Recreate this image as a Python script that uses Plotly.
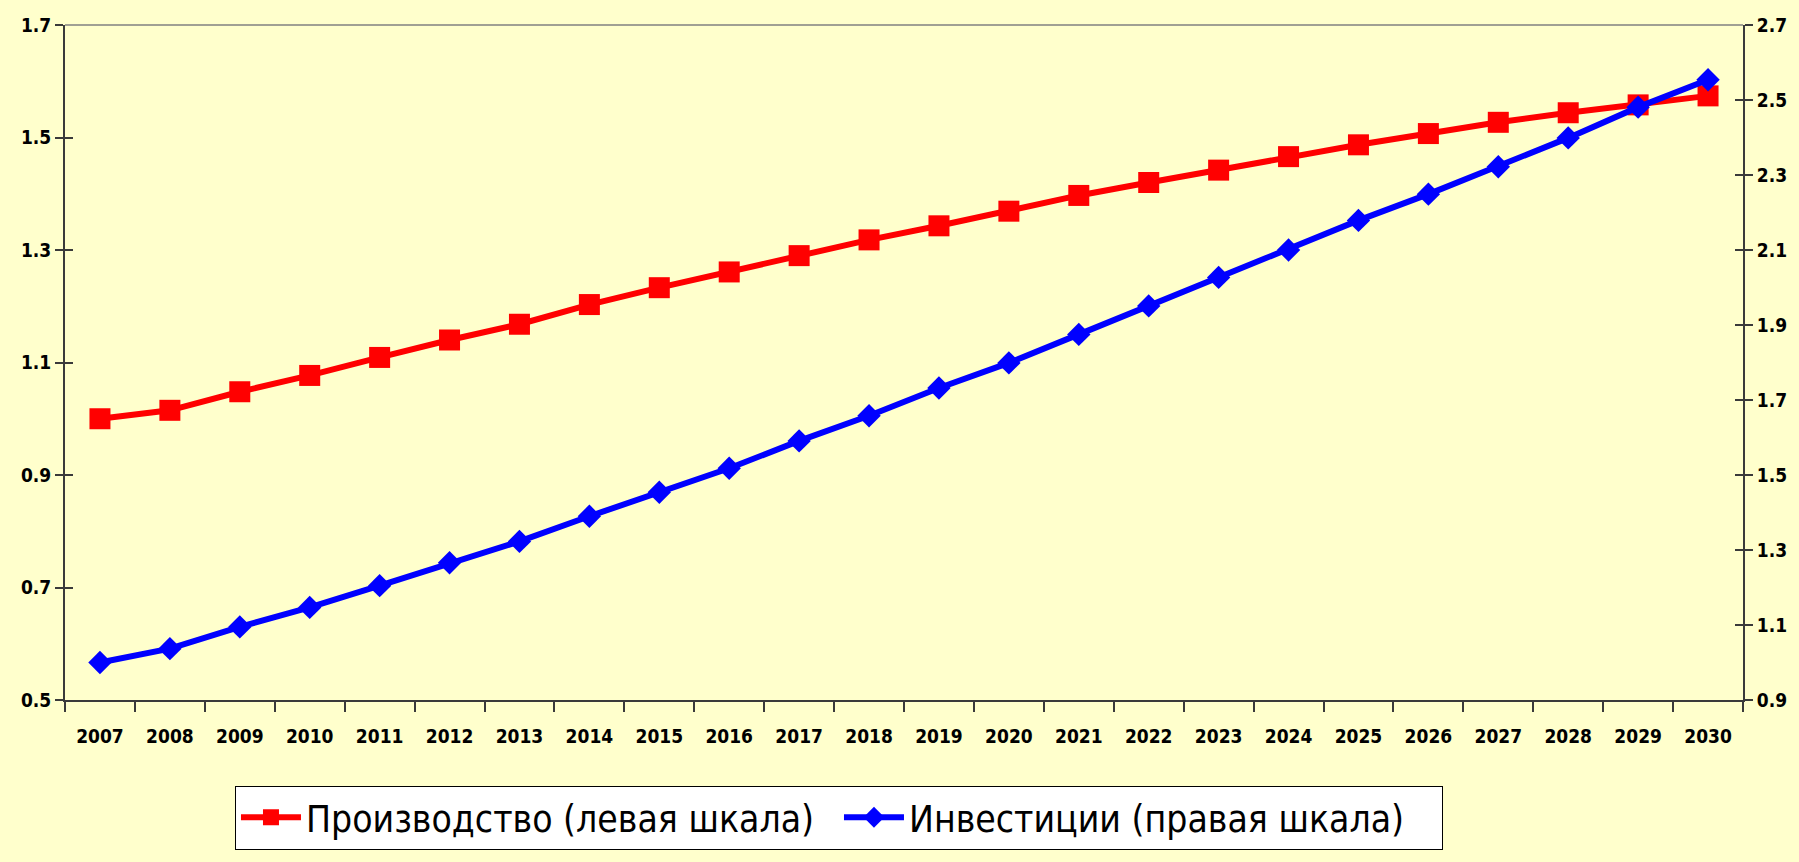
import plotly.graph_objects as go

years = [str(y) for y in range(2007, 2031)]
production = [1.00, 1.015, 1.048, 1.077, 1.109, 1.14, 1.168, 1.203, 1.233, 1.261, 1.29, 1.318,
              1.343, 1.369, 1.397, 1.42, 1.442, 1.466, 1.487, 1.507, 1.527, 1.544, 1.558, 1.574]
investment = [1.0, 1.037, 1.095, 1.147, 1.205, 1.266, 1.323, 1.39, 1.454, 1.518, 1.591, 1.658,
              1.732, 1.799, 1.875, 1.951, 2.027, 2.10, 2.179, 2.249, 2.322, 2.399, 2.481, 2.554]
left_ticks = [0.5, 0.7, 0.9, 1.1, 1.3, 1.5, 1.7]
right_ticks = [0.9, 1.1, 1.3, 1.5, 1.7, 1.9, 2.1, 2.3, 2.5, 2.7]

BG = "#FFFFCC"
AX = "#3a3a3a"
FONT = "DejaVu Sans Condensed, Liberation Sans Narrow, Arial Narrow, Liberation Sans, Arial"

fig = go.Figure()
fig.add_trace(go.Scatter(
    x=years, y=production, name="Производство (левая шкала)",
    mode="lines+markers", line=dict(color="#FF0000", width=6),
    marker=dict(symbol="square", size=21, color="#FF0000"), yaxis="y"))
fig.add_trace(go.Scatter(
    x=years, y=investment, name="Инвестиции (правая шкала)",
    mode="lines+markers", line=dict(color="#0000FF", width=6),
    marker=dict(symbol="diamond", size=18, color="#0000FF"), yaxis="y2"))
# invisible traces to activate the tick-only overlay axes
fig.add_trace(go.Scatter(x=[years[0]], y=[None], yaxis="y3", showlegend=False, hoverinfo="skip"))
fig.add_trace(go.Scatter(x=[years[0]], y=[None], yaxis="y4", showlegend=False, hoverinfo="skip"))

tickfont = dict(family=FONT, size=19, color="black", weight="bold")
fig.update_layout(
    width=1799, height=862,
    paper_bgcolor=BG, plot_bgcolor=BG,
    margin=dict(l=65, r=56, t=25, b=159),
    showlegend=True,
    legend=dict(orientation="h", x=0.1013, xanchor="left", y=-0.127, yanchor="top",
                bgcolor="white", bordercolor="black", borderwidth=1,
                entrywidth=528, entrywidthmode="pixels", itemwidth=60,
                font=dict(family=FONT, size=37, color="black")),
    xaxis=dict(type="category", range=[-0.5, 23.5], tickson="boundaries", ticks="outside",
               ticklen=10, tickcolor=AX, tickwidth=2, showline=True, linecolor=AX, linewidth=2,
               showgrid=False, zeroline=False, tickfont=tickfont, ticklabelstandoff=18),
    yaxis=dict(range=[0.5, 1.7], tickvals=left_ticks, tickformat=".1f", ticks="outside",
               ticklen=8, tickcolor=AX, tickwidth=2, showline=True, linecolor=AX, linewidth=2,
               showgrid=False, zeroline=False, tickfont=tickfont),
    yaxis2=dict(range=[0.9, 2.7], tickvals=right_ticks, tickformat=".1f", ticks="outside",
                ticklen=8, tickcolor=AX, tickwidth=2, showline=True, linecolor=AX, linewidth=2,
                showgrid=False, zeroline=False, tickfont=tickfont, overlaying="y", side="right"),
    yaxis3=dict(range=[0.5, 1.7], tickvals=left_ticks, ticks="inside", ticklen=8, tickcolor=AX,
                tickwidth=2, showticklabels=False, showgrid=False, zeroline=False,
                overlaying="y", side="left"),
    yaxis4=dict(range=[0.9, 2.7], tickvals=right_ticks, ticks="inside", ticklen=8, tickcolor=AX,
                tickwidth=2, showticklabels=False, showgrid=False, zeroline=False,
                overlaying="y", side="right"),
    shapes=[dict(type="line", xref="paper", yref="paper", x0=0, x1=1, y0=1, y1=1,
                 line=dict(color="#808080", width=1.5))],
)

fig.write_html("out.html", config={"displayModeBar": False},
               post_script="document.body.style.margin='0px';")
